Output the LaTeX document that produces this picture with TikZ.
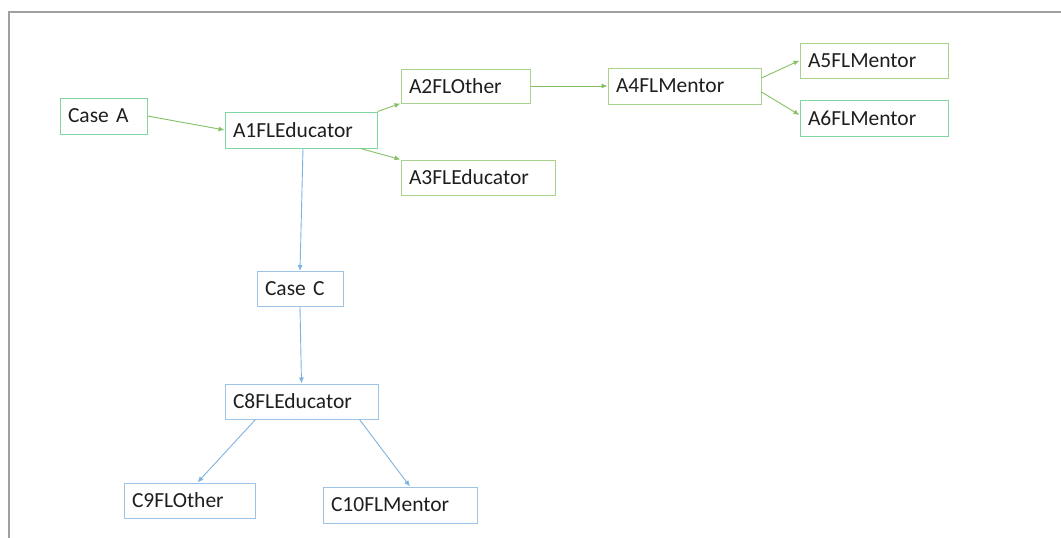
\documentclass[tikz,border=0pt]{standalone}
\usepackage{fontspec}
\setmainfont{Carlito}
\usetikzlibrary{arrows.meta}
\definecolor{mint}{HTML}{7FD6A0}
\definecolor{leaf}{HTML}{A9D18E}
\definecolor{leafline}{HTML}{86C066}
\definecolor{skybox}{HTML}{9DC3E6}
\definecolor{skyline}{HTML}{7EB2E0}
\definecolor{frame}{HTML}{A0A0A0}
\definecolor{ink}{HTML}{1E1E1E}
\tikzset{
  x=1pt, y=-1pt,
  box/.style={draw, line width=1pt, inner xsep=8pt, inner ysep=0pt,
    text=ink, font=\fontsize{21.5}{23}\selectfont, align=left},
  w/.style={text width=#1pt-16pt, minimum width=#1pt},
  h/.style={minimum height=#1pt},
  gbox/.style={box, draw=mint},
  ybox/.style={box, draw=leaf},
  bbox/.style={box, draw=skybox},
  garrow/.style={draw=leafline, line width=0.9pt, -{Latex[length=6pt,width=5pt]}},
  barrow/.style={draw=skyline, line width=0.9pt, -{Latex[length=6pt,width=5pt]}},
}
\begin{document}
\begin{tikzpicture}
\useasboundingbox (0,0) rectangle (1061,538);
% frame edges
\coordinate (ftr) at (1061,12);
\coordinate (ftl) at (9,12);
\coordinate (fbl) at (9,538);
\draw[frame, line width=1.5pt] (ftr) -- (ftl) -- (fbl);

% case A branch
\node[gbox, w=87, h=36]  (casea) at (103.5,116) {Case A};
\node[gbox, w=152, h=36] (a1) at (301,130) {A1FLEducator};
\node[ybox, w=129, h=34] (a2) at (465.5,86) {A2FLOther};
\node[ybox, w=154, h=35] (a3) at (478,177.5) {A3FLEducator};
\node[ybox, w=153, h=36] (a4) at (684.5,86) {A4FLMentor};
\node[ybox, w=148, h=35] (a5) at (874,60.5) {A5FLMentor};
\node[gbox, w=148, h=36] (a6) at (874,118) {A6FLMentor};

% case C branch
\node[bbox, w=86, h=35]  (casec) at (300,289) {Case C};
\node[bbox, w=153, h=35] (c8) at (301.5,401.5) {C8FLEducator};
\node[bbox, w=131, h=35] (c9) at (189.5,500.5) {C9FLOther};
\node[bbox, w=154, h=36] (c10) at (400,505) {C10FLMentor};

% connectors
\draw[garrow] (casea.east) -- (a1.west);
\draw[garrow] (a1.north east) -- (a2.south west);
\draw[garrow] ([xshift=-17pt]a1.south east) -- (a3.north west);
\draw[garrow] (a2.east) -- (a4.west);
\draw[garrow] ([yshift=8pt]a4.east) -- (a5.west);
\draw[garrow] ([yshift=-6pt]a4.east) -- ([yshift=3pt]a6.west);

\draw[barrow] ([xshift=2pt]a1.south) -- (casec.north);
\draw[barrow] (casec.south) -- (c8.north);
\draw[barrow] ([xshift=-46pt]c8.south) -- ([xshift=8pt]c9.north);
\draw[barrow] ([xshift=58pt]c8.south) -- ([xshift=10pt]c10.north);
\end{tikzpicture}
\end{document}
